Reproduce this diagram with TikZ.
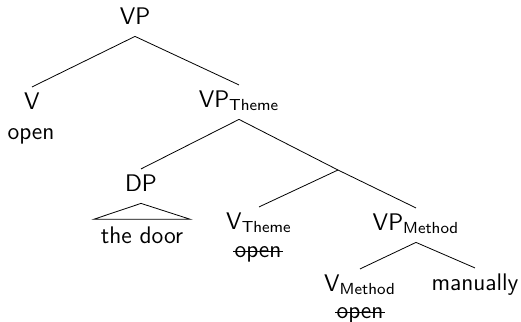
\documentclass[tikz,border=0pt]{standalone}
\usepackage{tikz}
\tikzstyle{cat} = [anchor=base, inner xsep=1pt, inner ysep=2.5pt, text height=8.33pt, text depth=3.5pt]
\tikzstyle{word} = [anchor=base]
\tikzstyle{strike} = [line width=0.6pt]

\begin{document}
\begin{tikzpicture}[x=0.5pt, y=-0.5pt, font=\sffamily\fontsize{12}{14}\selectfont]
    \useasboundingbox (0,0) rectangle (521,322);
    \draw (135,24) node[cat] (vp) {VP};
    \draw (32,109) node[cat] (v) {V};
    \draw (31,139) node[word] (open1) {open};
    \draw (239,107) node[cat] (vpt) {VP\textsubscript{Theme}};
    \draw (141,191) node[cat] (dp) {DP};
    \draw (142,243) node[word] (door) {the door};
    \coordinate (bar) at (338,170);
    \draw (259,229) node[cat] (vth) {V\textsubscript{Theme}};
    \draw (258,257) node[word] (open2) {open};
    \draw (416,230) node[cat] (vpm) {VP\textsubscript{Method}};
    \draw (360,291) node[cat] (vm) {V\textsubscript{Method}};
    \draw (360,318) node[word] (open3) {open};
    \draw (475,290) node[cat] (man) {manually};
    \draw (vp.south) -- (v.north);
    \draw (vp.south) -- (vpt.north);
    \draw (vpt.south) -- (dp.north);
    \draw (vpt.south) -- (bar);
    \draw (bar) -- (vth.north);
    \draw (bar) -- (vpm.north);
    \draw (vpm.south) -- (vm.north);
    \draw (vpm.south) -- (man.north);
    \draw (dp.south) -- (door.north west) -- (door.north east) -- cycle;
    % crossed-out copies
    \draw [strike] ([shift={(3pt,2.7pt)}]open2.base west) -- ([shift={(-3pt,2.7pt)}]open2.base east);
    \draw [strike] ([shift={(3pt,2.7pt)}]open3.base west) -- ([shift={(-3pt,2.7pt)}]open3.base east);
\end{tikzpicture}
\end{document}
